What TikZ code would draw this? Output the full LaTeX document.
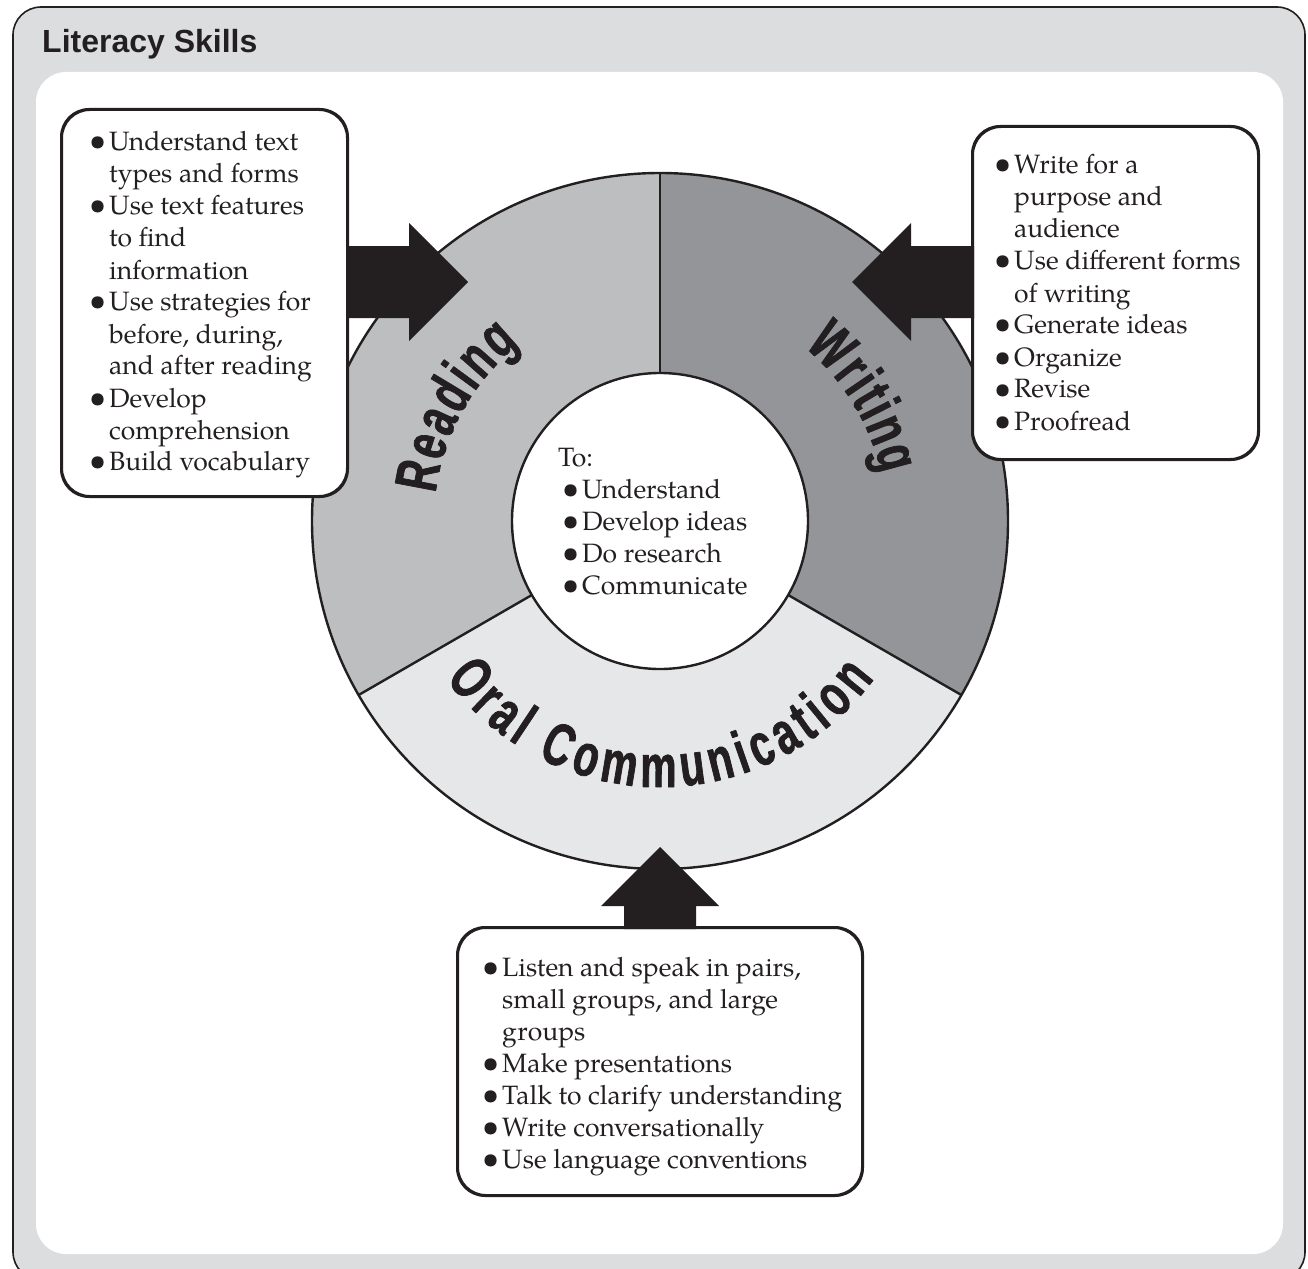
\documentclass[tikz,border=0pt]{standalone}
\usepackage{fontspec}
\setmainfont{TeX Gyre Pagella}
\newfontfamily\headfont{Liberation Sans}
\newfontfamily\arcfont[FakeStretch=0.68, FakeBold=1.2]{Liberation Sans}
\usetikzlibrary{decorations.text,calc}
\definecolor{framegray}{HTML}{DCDDDF}
\definecolor{readgray}{HTML}{BCBEC0}
\definecolor{writegray}{HTML}{939598}
\definecolor{oralgray}{HTML}{E6E7E8}
\definecolor{ink}{HTML}{231F20}
\newcommand\bul{\makebox[20pt][l]{\scalebox{1.15}{\textbullet}}}
\newcommand\ind{\hspace*{20pt}}
\newcommand\arclbl{\arcfont\bfseries\fontsize{60}{60}\selectfont}
\newcommand\listfont{\fontsize{26.5}{32}\selectfont}
\tikzset{
  ring/.style={draw=ink, line width=2.4pt},
  infobox/.style={rectangle, draw=ink, line width=2pt, fill=white, rounded corners=28pt, inner sep=0pt},
  blockarrow/.style={fill=ink, draw=none},
  listtext/.style={anchor=base west, inner sep=0pt, text=ink},
}
\begin{document}
\begin{tikzpicture}[x=1pt, y=1pt, line join=round]
\useasboundingbox (0,0) rectangle (1308,-1268);
% outer frame
\begin{scope}
  \clip (0,0) rectangle (1308,-1268);
  \draw[fill=framegray, draw=ink, line width=1.6pt, rounded corners=28pt] (13,-7) rectangle (1305,-1280);
\end{scope}
\fill[white, rounded corners=30pt] (36,-72) rectangle (1283,-1254);
\node[anchor=base west, inner sep=0pt, text=ink, font=\headfont\bfseries\fontsize{32}{32}\selectfont] (title) at (42,-53) {Literacy Skills};

% ring
\coordinate (c) at (660,-521);
\fill[readgray]  (c) -- ($(c)+(90:348)$)  arc[start angle=90,  end angle=210, radius=348] -- cycle;
\fill[writegray] (c) -- ($(c)+(-30:348)$) arc[start angle=-30, end angle=90,  radius=348] -- cycle;
\fill[oralgray]  (c) -- ($(c)+(210:348)$) arc[start angle=210, end angle=330, radius=348] -- cycle;
\draw[ring] ($(c)+(90:148)$) -- ($(c)+(90:348)$);
\draw[ring] ($(c)+(210:148)$) -- ($(c)+(210:348)$);
\draw[ring] ($(c)+(330:148)$) -- ($(c)+(330:348)$);
\draw[ring] (c) circle[radius=348];
\node[circle, ring, fill=white, minimum size=296pt, inner sep=0pt] (hub) at (c) {};

% curved labels
\path[decorate, decoration={text along path, text color=ink, text align={fit to path}, text={|\arclbl|Reading}}]
  ($(c)+(173:226)$) arc[start angle=173, end angle=128.5, radius=226];
\path[decorate, decoration={text along path, text color=ink, text align={fit to path}, text={|\arclbl|Writing}}]
  ($(c)+(50.5:226)$) arc[start angle=50.5, end angle=12, radius=226];
\path[decorate, decoration={text along path, text color=ink, text align={fit to path}, text={|\arclbl|Oral Communication}}]
  ($(c)+(216.3:266)$) arc[start angle=216.3, end angle=323.7, radius=266];

% centre text
\node[listtext] (hubtext) at (558,-466) {\parbox[t]{240pt}{\raggedright\listfont
To:\\
\hspace*{4pt}\bul Understand\\
\hspace*{4pt}\bul Develop ideas\\
\hspace*{4pt}\bul Do research\\
\hspace*{4pt}\bul Communicate}};

% boxes
\node[infobox, minimum width=285pt, minimum height=386pt] (readbox) at (204.5,-303) {};
\node[infobox, minimum width=285pt, minimum height=332pt] (writebox) at (1115.5,-293) {};
\node[infobox, minimum width=404pt, minimum height=267pt] (oralbox) at (660,-1061.5) {};

% block arrows
\coordinate (ra) at ($(readbox.east)+(-2,21)$);
\fill[blockarrow] ($(ra)+(0,36)$) -- ++(63,0) -- ++(0,23) -- ++(59,-59) -- ++(-59,-59) -- ++(0,23) -- ++(-63,0) -- cycle;
\coordinate (wa) at ($(writebox.west)+(2,11)$);
\fill[blockarrow] ($(wa)+(0,36)$) -- ++(-63,0) -- ++(0,23) -- ++(-59,-59) -- ++(59,-59) -- ++(0,23) -- ++(63,0) -- cycle;
\coordinate (oa) at ($(oralbox.north)+(0,-2)$);
\fill[blockarrow] ($(oa)+(-36,0)$) -- ++(0,23) -- ++(-23,0) -- ++(59,59) -- ++(59,-59) -- ++(-23,0) -- ++(0,-23) -- cycle;

% box borders on top of arrow shafts
\draw[ink, line width=2pt, rounded corners=28pt] (readbox.south west) rectangle (readbox.north east);
\draw[ink, line width=2pt, rounded corners=28pt] (writebox.south west) rectangle (writebox.north east);
\draw[ink, line width=2pt, rounded corners=28pt] (oralbox.south west) rectangle (oralbox.north east);

% list texts
\node[listtext] (readlist) at (89,-151) {\parbox[t]{250pt}{\raggedright\listfont
\bul Understand text\\
\ind types and forms\\
\bul Use text features\\
\ind to find\\
\ind information\\
\bul Use strategies for\\
\ind before, during,\\
\ind and after reading\\
\bul Develop\\
\ind comprehension\\
\bul Build vocabulary}};

\node[listtext] (writelist) at (994,-174) {\parbox[t]{250pt}{\raggedright\listfont
\bul Write for a\\
\ind purpose and\\
\ind audience\\
\bul Use different forms\\
\ind of writing\\
\bul Generate ideas\\
\bul Organize\\
\bul Revise\\
\bul Proofread}};

\node[listtext] (orallist) at (482,-976) {\parbox[t]{370pt}{\raggedright\listfont
\bul Listen and speak in pairs,\\
\ind small groups, and large\\
\ind groups\\
\bul Make presentations\\
\bul Talk to clarify understanding\\
\bul Write conversationally\\
\bul Use language conventions}};
\end{tikzpicture}
\end{document}
